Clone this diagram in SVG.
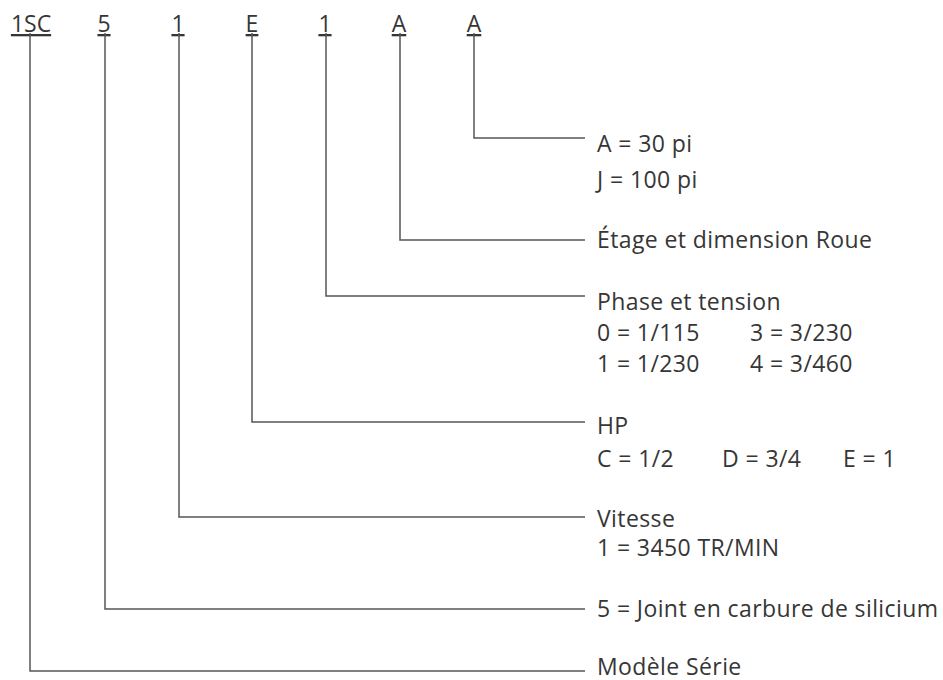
<svg xmlns="http://www.w3.org/2000/svg" width="943" height="680" viewBox="0 0 943 680">
<style>
text{font-family:"Open Sans","Liberation Sans",sans-serif;font-size:23px;letter-spacing:0.4px;fill:#363636}
.code{text-anchor:middle;text-decoration:underline;letter-spacing:0}
.c{fill:none;stroke:#555;stroke-width:1.5}
</style>
<rect width="943" height="680" fill="#fff"/>
<g id="codes">
<text class="code" x="31" y="32">1SC</text>
<text class="code" x="104" y="32">5</text>
<text class="code" x="178" y="32">1</text>
<text class="code" x="252" y="32">E</text>
<text class="code" x="325" y="32">1</text>
<text class="code" x="399" y="32">A</text>
<text class="code" x="474" y="32">A</text>
</g>
<g id="connectors">
<polyline class="c" points="474,33 474,138 585,138"/>
<polyline class="c" points="400,33 400,240 585,240"/>
<polyline class="c" points="326,33 326,296 585,296"/>
<polyline class="c" points="252,33 252,422 585,422"/>
<polyline class="c" points="179,33 179,517 585,517"/>
<polyline class="c" points="105,33 105,609 585,609"/>
<polyline class="c" points="30,33 30,671 585,671"/>
</g>
<g id="wheel-size">
<text x="597" y="152">A = 30 pi</text>
<text x="597" y="188">J = 100 pi</text>
</g>
<g id="stage">
<text x="597" y="248">Étage et dimension Roue</text>
</g>
<g id="phase">
<text x="597" y="310">Phase et tension</text>
<text x="597" y="341">0 = 1/115</text>
<text x="750" y="341">3 = 3/230</text>
<text x="597" y="372">1 = 1/230</text>
<text x="750" y="372">4 = 3/460</text>
</g>
<g id="hp">
<text x="597" y="434">HP</text>
<text x="597" y="467">C = 1/2</text>
<text x="722" y="467">D = 3/4</text>
<text x="843" y="467">E = 1</text>
</g>
<g id="speed">
<text x="597" y="527">Vitesse</text>
<text x="597" y="556">1 = 3450 TR/MIN</text>
</g>
<g id="seal">
<text x="597" y="617">5 = Joint en carbure de silicium</text>
</g>
<g id="model">
<text x="597" y="675">Modèle Série</text>
</g>
</svg>
